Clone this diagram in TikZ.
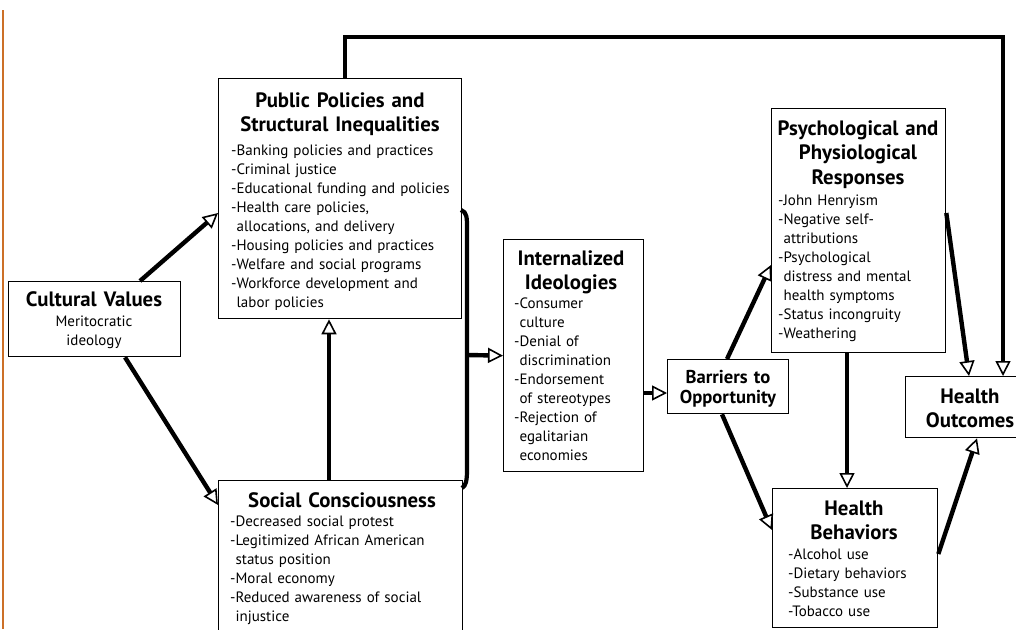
\documentclass[tikz,border=0pt]{standalone}
\usepackage{fontspec}
\setmainfont{PT Sans}
\usetikzlibrary{arrows.meta}
\definecolor{orangeline}{RGB}{204,112,40}
\newcommand\bodyf{\fontsize{15}{19}\selectfont}
\newcommand\titf{\fontsize{20.8}{24.5}\selectfont\bfseries}
\newcommand\smtitf{\fontsize{18.6}{20}\selectfont\bfseries}
\newcommand\ind{\hphantom{-}}
\begin{document}
\begin{tikzpicture}[x=1pt,y=-1pt,
  box/.style={draw, line width=1.3pt, inner sep=0pt, anchor=north west},
  conn/.style={line width=4.4pt, -{Triangle[open, length=15pt, width=15pt, line width'=1.6pt]}},
  items/.style={anchor=base west, inner sep=0pt, text width=260pt, align=left, font=\bodyf},
  tit/.style={anchor=base, inner sep=0pt, text width=260pt, align=center, font=\titf},
  ctr/.style={anchor=base, inner sep=0pt, text width=200pt, align=center, font=\bodyf}]
\useasboundingbox (0,0) rectangle (1016,629);
\clip (0,0) rectangle (1016,629);
% orange margin line
\draw[orangeline, line width=2pt] (3,10) -- (3,629);
% boxes
\node[box, minimum width=172pt, minimum height=75pt] (cv) at (8,281) {};
\node[box, minimum width=243pt, minimum height=240pt] (pp) at (218,78) {};
\node[box, minimum width=244pt, minimum height=180pt] (sc) at (218,480) {};
\node[box, minimum width=140pt, minimum height=232pt] (ii) at (503,239) {};
\node[box, minimum width=121pt, minimum height=54pt] (bo) at (667,359) {};
\node[box, minimum width=174pt, minimum height=244pt] (ps) at (771,108) {};
\node[box, minimum width=130pt, minimum height=61pt] (ho) at (905,376) {};
\node[box, minimum width=165pt, minimum height=139pt] (hb) at (772,488) {};
% texts
\node[tit] (cvt) at (94,306) {Cultural Values};
\node[ctr] (cvi) at (94,326) {Meritocratic\\ideology};
\node[tit] (ppt) at (340,107) {Public Policies and\\Structural Inequalities};
\node[items] (ppi) at (231,155) {-Banking policies and practices\\-Criminal justice\\-Educational funding and policies\\-Health care policies,\\\ind allocations, and delivery\\-Housing policies and practices\\-Welfare and social programs\\-Workforce development and\\\ind labor policies};
\node[tit] (sct) at (342,507) {Social Consciousness};
\node[items] (sci) at (230,526) {-Decreased social protest\\-Legitimized African American\\\ind status position\\-Moral economy\\-Reduced awareness of social\\\ind injustice};
\node[tit] (iit) at (571,265) {Internalized\\Ideologies};
\node[items] (iii) at (514,308) {-Consumer\\\ind culture\\-Denial of\\\ind discrimination\\-Endorsement\\\ind of stereotypes\\-Rejection of\\\ind egalitarian\\\ind economies};
\node[tit, font=\smtitf] (bot) at (728,383) {Barriers to\\Opportunity};
\node[tit] (pst) at (858,135) {Psychological and\\Physiological\\Responses};
\node[items] (psi) at (778,205) {-John Henryism\\-Negative self-\\\ind attributions\\-Psychological\\\ind distress and mental\\\ind health symptoms\\-Status incongruity\\-Weathering};
\node[tit] (hot) at (970,403) {Health\\Outcomes};
\node[tit] (hbt) at (854,515) {Health\\Behaviors};
\node[items] (hbi) at (788,559) {-Alcohol use\\-Dietary behaviors\\-Substance use\\-Tobacco use};
% connector end points on boxes
\coordinate (scTop) at ([xshift=111pt]sc.north west);
\coordinate (psBot) at ([xshift=76pt]ps.south west);
\coordinate (ppTop) at ([xshift=127pt]pp.north west);
\coordinate (topR) at (1003,37);
% connectors
\draw[conn] ([xshift=132pt]cv.north west) -- ([yshift=-135pt]pp.north west);
\draw[conn] ([xshift=117pt]cv.south west) -- ([yshift=-25pt]sc.north west);
\draw[conn] (scTop) -- (pp.south -| scTop);
\draw[line width=4.8pt, -{Triangle[open, length=15pt, width=15pt, line width'=1.6pt]}] (ppTop) |- (topR) -- (ho.north -| topR);
% brace
\coordinate (brA) at (461,210);
\coordinate (brB) at (467,228);
\coordinate (brC) at (467,470);
\coordinate (brD) at (462,488);
\coordinate (brM) at (467,355);
\draw[line width=4.2pt] (brA) .. controls (467,212) and (467,218) .. (brB) -- (brC) .. controls (467,480) and (466,486) .. (brD);
\draw[conn] (brM) -- (ii.west);
\draw[conn] ([yshift=-34pt]bo.north west -| ii.east) -- ([yshift=-34pt]bo.north west);
\draw[conn] ([xshift=60pt]bo.north west) -- ([yshift=-157pt]ps.north west);
\draw[conn] ([xshift=55pt]bo.south west) -- ([yshift=-42pt]hb.north west);
\draw[conn] ([yshift=-105pt]ps.north east) -- ([xshift=64pt]ho.north west);
\draw[conn] (psBot) -- (hb.north -| psBot);
\draw[conn] ([yshift=-66pt]hb.north east) -- ([xshift=72pt]ho.south west);
\end{tikzpicture}
\end{document}
